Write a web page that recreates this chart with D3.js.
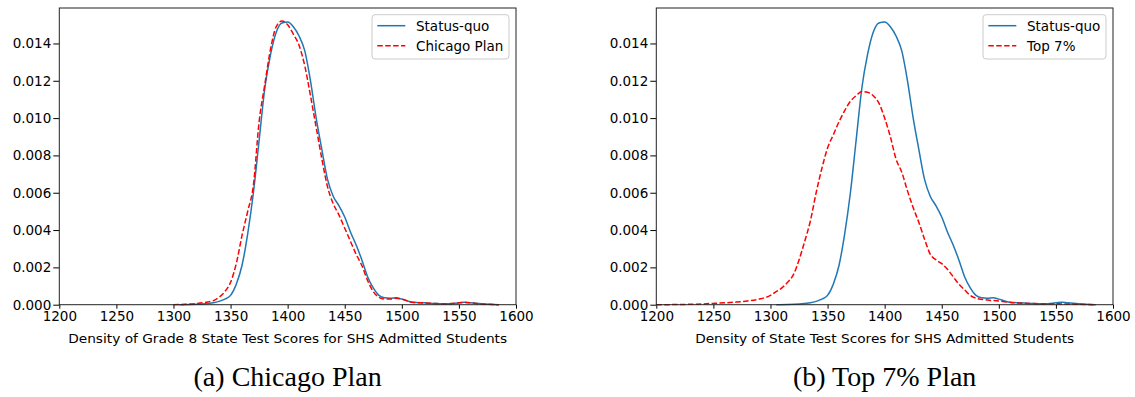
<!DOCTYPE html>
<html>
<head>
<meta charset="utf-8">
<script src="https://cdn.jsdelivr.net/npm/d3@7"></script>
<style>
  body { margin: 0; background: #fff; }
  svg { display: block; }
  .tick text { font-family: "DejaVu Sans", sans-serif; font-size: 13.5px; fill: #000; }
</style>
</head>
<body>
<div id="chart"></div>
<script>
var svgWidth = 1135;
var svgHeight = 397;

// Data
// ==============================
var xTicks = [1200, 1250, 1300, 1350, 1400, 1450, 1500, 1550, 1600];
var yTicks = [0, 0.002, 0.004, 0.006, 0.008, 0.010, 0.012, 0.014];

var statusQuoX = [1305, 1315, 1325, 1335, 1340, 1345, 1350, 1355, 1360, 1365, 1370, 1375, 1380, 1385, 1390, 1395, 1400,
    1405, 1410, 1415, 1420, 1425, 1430, 1435, 1440, 1445, 1450, 1455, 1460, 1465, 1470, 1475, 1480, 1485, 1490,
    1495, 1500, 1505, 1510, 1520, 1530, 1540, 1550, 1555, 1560, 1570, 1585];
var statusQuoY = [0, 0.00001, 0.00004, 0.0001, 0.00018, 0.0003, 0.0005, 0.0011, 0.0021, 0.0038, 0.0060, 0.0088, 0.0116,
    0.0134, 0.0146, 0.0151, 0.01515, 0.0149, 0.0144, 0.0136, 0.0120, 0.0100, 0.0083, 0.0067, 0.0058, 0.0053, 0.0047,
    0.0039, 0.0032, 0.0024, 0.0015, 0.0009, 0.0005, 0.00037, 0.00035, 0.00037, 0.0003, 0.0002, 0.00013, 0.0001,
    0.00006, 0.00005, 0.0001, 0.00013, 0.0001, 0.00005, 0];

var chicagoX = [1300, 1310, 1320, 1330, 1335, 1340, 1345, 1350, 1355, 1360, 1365, 1370, 1375, 1380, 1385, 1390, 1395,
    1400, 1405, 1410, 1415, 1420, 1425, 1430, 1435, 1440, 1445, 1450, 1455, 1460, 1465, 1470, 1475, 1480, 1485,
    1490, 1495, 1500, 1505, 1510, 1520, 1530, 1540, 1550, 1555, 1560, 1570, 1585];
var chicagoY = [0, 0.00002, 0.00006, 0.00015, 0.00022, 0.0004, 0.0007, 0.0012, 0.0022, 0.0037, 0.0050, 0.0064, 0.0098,
    0.0118, 0.0137, 0.0149, 0.0152, 0.0150, 0.0145, 0.0139, 0.0128, 0.0112, 0.0095, 0.0078, 0.0063, 0.0054, 0.0048,
    0.0041, 0.0034, 0.0027, 0.0021, 0.0013, 0.0007, 0.0004, 0.0003, 0.0003, 0.00034, 0.0003, 0.0002, 0.00012,
    0.00009, 0.00006, 0.00005, 0.0001, 0.00012, 0.0001, 0.00004, 0];

var top7X = [1200, 1220, 1240, 1250, 1260, 1270, 1280, 1290, 1300, 1305, 1310, 1315, 1320, 1325, 1330, 1335, 1340,
    1345, 1350, 1355, 1360, 1365, 1370, 1375, 1380, 1385, 1390, 1395, 1400, 1405, 1410, 1415, 1420, 1425, 1430,
    1435, 1440, 1445, 1450, 1455, 1460, 1465, 1470, 1475, 1480, 1490, 1500, 1510, 1520, 1540, 1560, 1585];
var top7Y = [0, 0.00001, 0.00004, 0.00007, 0.0001, 0.00014, 0.0002, 0.0003, 0.0005, 0.0007, 0.0009, 0.0012, 0.0016,
    0.0024, 0.0034, 0.0045, 0.0060, 0.0073, 0.0084, 0.0091, 0.0098, 0.0104, 0.0109, 0.0112, 0.01142, 0.01138, 0.0112,
    0.0108, 0.0100, 0.0090, 0.0078, 0.0071, 0.0061, 0.0052, 0.0044, 0.0035, 0.0027, 0.0024, 0.0022, 0.0019, 0.0015,
    0.0011, 0.0008, 0.0005, 0.00035, 0.00025, 0.0002, 0.00012, 0.00008, 0.00005, 0.00004, 0];

var panels = [
    {
        left: 59.3, right: 516,
        altName: "Chicago Plan", altX: chicagoX, altY: chicagoY,
        xLabel: "Density of Grade 8 State Test Scores for SHS Admitted Students", labelLen: 439,
        caption: "(a) Chicago Plan"
    },
    {
        left: 656.3, right: 1113,
        altName: "Top 7%", altX: top7X, altY: top7Y,
        xLabel: "Density of State Test Scores for SHS Admitted Students", labelLen: 379,
        caption: "(b) Top 7% Plan"
    }
];

var plotTop = 8;
var plotBottom = 304.7;

var svg = d3.select("#chart")
    .append("svg")
    .attr("width", svgWidth)
    .attr("height", svgHeight);

function zip(xs, ys) {
    return xs.map(function (x, i) { return { x: x, y: ys[i] }; });
}

panels.forEach(function (p) {
    var width = p.right - p.left;
    var height = plotBottom - plotTop;

    var g = svg.append("g")
        .attr("transform", `translate(${p.left}, ${plotTop})`);

    var xScale = d3.scaleLinear().domain([1200, 1600]).range([0, width]);
    var yScale = d3.scaleLinear().domain([0, 0.0159]).range([height, 0]);

    // Axes
    var bottomAxis = d3.axisBottom(xScale).tickValues(xTicks).tickSize(4).tickPadding(3).tickFormat(d3.format("d"));
    var leftAxis = d3.axisLeft(yScale).tickValues(yTicks).tickSize(6).tickPadding(2).tickFormat(d3.format(".3f"));

    var xg = g.append("g").attr("transform", `translate(0, ${height})`).call(bottomAxis);
    var yg = g.append("g").call(leftAxis);
    [xg, yg].forEach(function (a) {
        a.select(".domain").remove();
        a.selectAll(".tick line").attr("stroke", "#000").attr("stroke-width", 1);
    });

    // Curves
    var line = d3.line()
        .x(d => xScale(d.x))
        .y(d => yScale(d.y))
        .curve(d3.curveMonotoneX);

    g.append("path")
        .datum(zip(statusQuoX, statusQuoY))
        .attr("d", line)
        .attr("fill", "none")
        .attr("stroke", "#1f77b4")
        .attr("stroke-width", 1.5);

    g.append("path")
        .datum(zip(p.altX, p.altY))
        .attr("d", line)
        .attr("fill", "none")
        .attr("stroke", "red")
        .attr("stroke-width", 1.5)
        .attr("stroke-dasharray", "5.5,2.4");

    // Frame
    g.append("rect")
        .attr("width", width)
        .attr("height", height)
        .attr("fill", "none")
        .attr("stroke", "#222")
        .attr("stroke-width", 1);

    // Legend
    var legend = g.append("g");
    var box = legend.append("rect")
        .attr("fill", "#fff")
        .attr("fill-opacity", 0.8)
        .attr("stroke", "#ccc")
        .attr("stroke-width", 1)
        .attr("rx", 3);
    var names = ["Status-quo", p.altName];
    var maxLen = 0;
    names.forEach(function (name, i) {
        var y = 17.7 + i * 20;
        legend.append("line")
            .attr("x1", 0).attr("x2", 28)
            .attr("y1", y).attr("y2", y)
            .attr("stroke", i === 0 ? "#1f77b4" : "red")
            .attr("stroke-width", 1.5)
            .attr("stroke-dasharray", i === 0 ? null : "5.5,2.4");
        var t = legend.append("text")
            .attr("x", 38.7)
            .attr("y", y + 5.5)
            .attr("font-family", "DejaVu Sans, sans-serif")
            .attr("font-size", 13.5)
            .text(name);
        maxLen = Math.max(maxLen, t.node().getComputedTextLength());
    });
    var boxW = 5.3 + 38.7 + maxLen + 5.7;
    box.attr("x", -5.3).attr("y", 6.7).attr("width", boxW).attr("height", 44.3);
    legend.attr("transform", `translate(${width - 7 - boxW + 5.3}, 0)`);

    // Axis label
    g.append("text")
        .attr("x", width / 2)
        .attr("y", 343.3 - plotTop)
        .attr("text-anchor", "middle")
        .attr("font-family", "DejaVu Sans, sans-serif")
        .attr("font-size", 12.5)
        .attr("textLength", p.labelLen)
        .attr("lengthAdjust", "spacingAndGlyphs")
        .text(p.xLabel);

    // Caption
    g.append("text")
        .attr("x", width / 2)
        .attr("y", 386 - plotTop)
        .attr("text-anchor", "middle")
        .attr("font-family", "Liberation Serif, serif")
        .attr("font-size", 28)
        .text(p.caption);
});
</script>
</body>
</html>
